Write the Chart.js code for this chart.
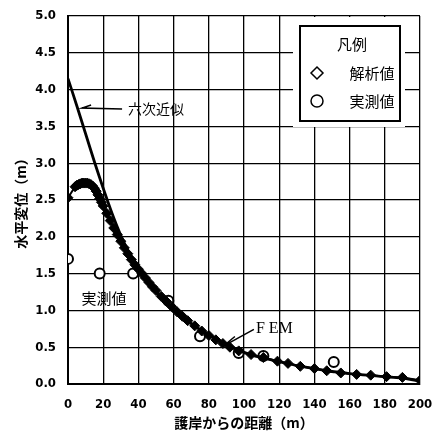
<!DOCTYPE html>
<html>
<head>
<meta charset="utf-8">
<script src="https://cdn.jsdelivr.net/npm/chart.js@4/dist/chart.umd.min.js"></script>
<style>
  html, body { margin: 0; padding: 0; background: #fff; }
  #wrap { width: 438px; height: 434px; }
</style>
</head>
<body>
<div id="wrap"><canvas id="chart" width="438" height="434"></canvas></div>
<script>
// FEM analysis values (解析値)
const femX = [0, 4, 5, 6, 7, 8, 9, 10, 11, 12, 13, 14, 15, 16, 17, 18, 19, 20, 22, 24, 26, 28, 30, 32, 34, 36, 38, 40, 42, 44, 46, 48, 50, 53, 56, 59, 62, 65, 68, 72, 76, 80, 84, 88, 92, 97, 104, 111, 119, 125, 132, 140, 147, 155, 164, 172, 181, 190, 200];
const femY = [2.53, 2.68, 2.70, 2.71, 2.72, 2.73, 2.73, 2.73, 2.73, 2.72, 2.71, 2.69, 2.66, 2.62, 2.57, 2.52, 2.47, 2.42, 2.32, 2.22, 2.12, 2.03, 1.94, 1.85, 1.77, 1.69, 1.62, 1.56, 1.50, 1.44, 1.38, 1.32, 1.27, 1.19, 1.12, 1.05, 0.98, 0.92, 0.86, 0.79, 0.72, 0.66, 0.60, 0.55, 0.50, 0.45, 0.40, 0.36, 0.31, 0.28, 0.24, 0.21, 0.18, 0.15, 0.13, 0.12, 0.10, 0.09, 0.05];

// sixth-order fit (六次近似)
const fitX = [0, 5, 10, 15, 20, 25, 30, 35, 40, 45, 50, 55, 60, 65, 70, 75, 80, 85, 90, 95, 100, 105, 110, 115, 120, 125, 130, 135, 140, 145, 150, 155, 160, 165, 170, 175, 180, 185, 190, 195, 200];
const fitY = [4.15, 3.78, 3.40, 3.02, 2.66, 2.32, 2.02, 1.77, 1.56, 1.39, 1.25, 1.12, 1.01, 0.91, 0.82, 0.74, 0.67, 0.60, 0.54, 0.48, 0.43, 0.39, 0.36, 0.33, 0.30, 0.28, 0.25, 0.23, 0.21, 0.19, 0.17, 0.16, 0.14, 0.13, 0.12, 0.11, 0.10, 0.09, 0.08, 0.06, 0.04];

// measured values (実測値)
const obsX = [0, 18, 37, 57, 75, 97, 111, 151];
const obsY = [1.70, 1.50, 1.50, 1.13, 0.65, 0.42, 0.38, 0.30];

const xTicks = [0, 20, 40, 60, 80, 100, 120, 140, 160, 180, 200];
const yTicks = [0, 0.5, 1.0, 1.5, 2.0, 2.5, 3.0, 3.5, 4.0, 4.5, 5.0];

const toPts = (xs, ys) => xs.map((x, i) => ({ x: x, y: ys[i] }));

const jpFont = '"Noto Sans CJK JP", sans-serif';
const numFont = '"DejaVu Sans Condensed", "DejaVu Sans", sans-serif';

// legend box + annotations
const overlayPlugin = {
    id: "overlay",
    afterDraw(chart) {
        const ctx = chart.ctx;
        const a = chart.chartArea;
        const xs = chart.scales.x;
        const ys = chart.scales.y;
        ctx.save();

        // legend
        const bx = a.right - 120, by = a.top + 10;
        ctx.fillStyle = "#fff";
        ctx.fillRect(a.right - 127, a.top + 1, 112, 110);
        ctx.strokeStyle = "#000";
        ctx.lineWidth = 2;
        ctx.strokeRect(bx, by, 100, 95);
        ctx.fillStyle = "#000";
        ctx.font = "15px " + jpFont;
        ctx.textAlign = "center";
        ctx.textBaseline = "middle";
        ctx.fillText("凡例", bx + 52, by + 18);
        ctx.fillText("解析値", bx + 72, by + 47);
        ctx.fillText("実測値", bx + 72, by + 75);
        ctx.lineWidth = 1.5;
        ctx.beginPath();
        ctx.moveTo(bx + 17, by + 41);
        ctx.lineTo(bx + 23, by + 47);
        ctx.lineTo(bx + 17, by + 53);
        ctx.lineTo(bx + 11, by + 47);
        ctx.closePath();
        ctx.stroke();
        ctx.beginPath();
        ctx.arc(bx + 17, by + 75, 6, 0, Math.PI * 2);
        ctx.stroke();

        // 六次近似 leader
        const t1x = xs.getPixelForValue(8), t1y = ys.getPixelForValue(3.75);
        ctx.lineWidth = 1.5;
        ctx.beginPath();
        ctx.moveTo(t1x + 40, t1y + 1);
        ctx.lineTo(t1x, t1y);
        ctx.lineTo(t1x + 9, t1y - 3);
        ctx.stroke();
        ctx.textAlign = "left";
        ctx.font = "14px " + jpFont;
        ctx.fillText("六次近似", t1x + 46, t1y + 1);

        // 実測値 label
        ctx.textAlign = "center";
        ctx.font = "15px " + jpFont;
        ctx.fillText("実測値", xs.getPixelForValue(20.5), ys.getPixelForValue(1.17));

        // FEM leader
        const t2x = xs.getPixelForValue(88), t2y = ys.getPixelForValue(0.51);
        ctx.beginPath();
        ctx.moveTo(t2x + 31, t2y - 17);
        ctx.lineTo(t2x, t2y);
        ctx.moveTo(t2x, t2y);
        ctx.lineTo(t2x + 12, t2y - 10);
        ctx.stroke();
        ctx.textAlign = "left";
        ctx.font = '16px "Liberation Serif", serif';
        ctx.fillText("F EM", t2x + 33, t2y - 18);

        ctx.restore();
    },
};

new Chart(document.getElementById("chart"), {
    type: "scatter",
    data: {
        datasets: [
            {
                label: "解析値",
                data: toPts(femX, femY),
                showLine: true,
                borderColor: "#000",
                borderWidth: 2,
                backgroundColor: "#000",
                pointStyle: "rectRot",
                pointRadius: 5,
                pointBorderWidth: 1,
                tension: 0,
            },
            {
                label: "六次近似",
                data: toPts(fitX, fitY),
                showLine: true,
                borderColor: "#000",
                borderWidth: 2.8,
                pointRadius: 0,
                tension: 0.3,
            },
            {
                label: "実測値",
                data: toPts(obsX, obsY),
                showLine: false,
                borderColor: "#000",
                backgroundColor: "#fff",
                pointStyle: "circle",
                pointRadius: 5,
                pointBorderWidth: 2,
            },
        ],
    },
    options: {
        responsive: false,
        animation: false,
        layout: { padding: { left: 12, right: 18, top: 16, bottom: 3 } },
        plugins: {
            legend: { display: false },
            tooltip: { enabled: false },
        },
        scales: {
            x: {
                type: "linear",
                min: 0,
                max: 200,
                afterFit: (s) => {
                    s.height = 47;
                    s.paddingLeft = 0;
                    s.paddingRight = 0;
                },
                afterBuildTicks: (s) => { s.ticks = xTicks.map((v) => ({ value: v })); },
                grid: { color: "#000", lineWidth: 1.3, drawTicks: false },
                border: { color: "#000", width: 2 },
                ticks: {
                    color: "#000",
                    padding: 13,
                    maxRotation: 0,
                    font: { family: numFont, size: 13, weight: "bold" },
                },
                title: {
                    display: true,
                    text: "護岸からの距離（m）",
                    color: "#000",
                    padding: { top: 0, bottom: 0 },
                    font: { family: jpFont, size: 14, weight: "bold" },
                },
            },
            y: {
                type: "linear",
                min: 0,
                max: 5,
                afterFit: (s) => {
                    s.width = 56;
                    s.paddingTop = 0;
                    s.paddingBottom = 0;
                },
                afterBuildTicks: (s) => { s.ticks = yTicks.map((v) => ({ value: v })); },
                grid: { color: "#000", lineWidth: 1.3, drawTicks: false },
                border: { color: "#000", width: 2 },
                ticks: {
                    color: "#000",
                    padding: 12,
                    callback: (v) => v.toFixed(1),
                    font: { family: numFont, size: 13, weight: "bold" },
                },
                title: {
                    display: true,
                    text: "水平変位（m）",
                    color: "#000",
                    padding: { top: 0, bottom: 0 },
                    font: { family: jpFont, size: 14, weight: "bold" },
                },
            },
        },
    },
    plugins: [overlayPlugin],
});
</script>
</body>
</html>
